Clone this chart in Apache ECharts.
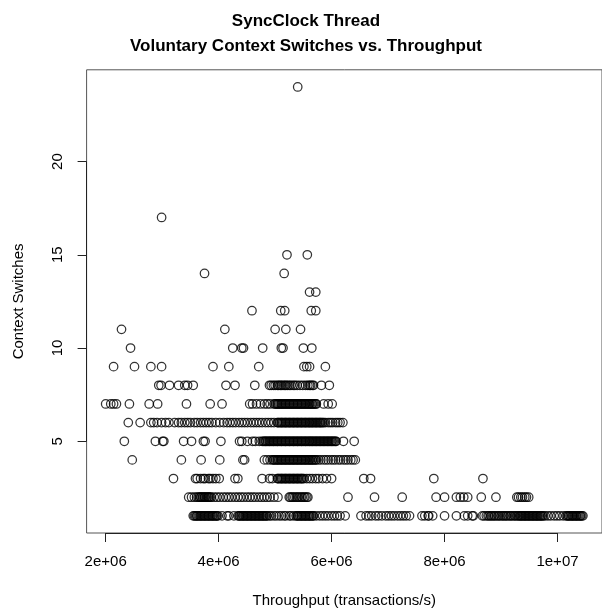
<!DOCTYPE html>
<html>
<head>
<meta charset="utf-8">
<script src="https://cdn.jsdelivr.net/npm/echarts@6/dist/echarts.min.js"></script>
<style>
  html, body { margin: 0; padding: 0; background: #fff; }
  #chart { width: 602px; height: 613px; }
</style>
</head>
<body>
<div id="chart"></div>
<script>
// Throughput readings (millions of transactions/s) grouped by the number of
// voluntary context switches observed for the SyncClock thread.
const switchLevels = [1, 2, 3, 4, 5, 6, 7, 8, 9, 10, 11, 12, 13, 14, 15, 17, 24];

const throughputAt1 = [
  3.55, 3.57, 3.59, 3.61, 3.62, 3.64, 3.66, 3.68, 3.69, 3.71, 3.73, 3.75, 3.76,
  3.78, 3.80, 3.82, 3.83, 3.85, 3.87, 3.89, 3.90, 3.92, 3.94, 3.96, 3.97, 3.99,
  4.06, 4.15, 4.18, 4.27,
  4.34, 4.36, 4.37, 4.39, 4.41, 4.43, 4.44, 4.46, 4.48, 4.50, 4.51, 4.53, 4.55,
  4.57, 4.58, 4.60, 4.62, 4.64, 4.65, 4.67, 4.69, 4.71, 4.72, 4.74, 4.76, 4.78,
  4.79, 4.81, 4.83, 4.85, 4.86,
  4.90, 4.93, 4.98, 5.02, 5.07, 5.11, 5.16, 5.19, 5.25, 5.28, 5.33, 5.37,
  5.39, 5.40, 5.42, 5.44, 5.46, 5.47, 5.49, 5.51, 5.53, 5.54, 5.56, 5.58, 5.60,
  5.61, 5.63, 5.65, 5.67, 5.68,
  5.73, 5.79, 5.84, 5.89, 5.94, 6.00, 6.05, 6.10, 6.15, 6.24,
  6.52, 6.61, 6.66, 6.71, 6.78, 6.83, 6.89, 6.96, 7.01, 7.06, 7.11, 7.17, 7.22, 7.27, 7.32, 7.38,
  7.60, 7.65, 7.71, 7.72, 7.79,
  8.00, 8.21, 8.35, 8.41, 8.49, 8.51,
  8.67, 8.70, 8.74, 8.77,
  8.79, 8.82, 8.84, 8.87, 8.89, 8.92, 8.95, 8.97, 9.00, 9.03, 9.05, 9.08, 9.10,
  9.13, 9.16, 9.18, 9.21, 9.24, 9.26, 9.29,
  9.31, 9.33, 9.35, 9.36, 9.38, 9.40, 9.42, 9.43, 9.45, 9.47, 9.49, 9.50, 9.52,
  9.54, 9.56, 9.57, 9.59, 9.61, 9.63, 9.64, 9.66, 9.68, 9.70, 9.71, 9.73, 9.75,
  9.78, 9.83, 9.88, 9.94, 9.99, 10.04, 10.10,
  10.15, 10.17, 10.19, 10.20, 10.22, 10.24, 10.26, 10.27, 10.29, 10.31, 10.33,
  10.34, 10.36, 10.38, 10.40, 10.41, 10.43, 10.45
];
const throughputAt2 = [
  3.47, 3.52, 3.57, 3.61, 3.64, 3.66, 3.68, 3.69, 3.71, 3.73, 3.75, 3.76, 3.78,
  3.80, 3.82, 3.83, 3.85, 3.87,
  3.92, 3.97, 4.02, 4.08, 4.13, 4.18, 4.23, 4.29, 4.34, 4.39, 4.44, 4.50, 4.55,
  4.60, 4.65, 4.71, 4.76, 4.81, 4.86, 4.91, 4.98, 5.05,
  5.25, 5.27, 5.30, 5.32, 5.35, 5.38, 5.40, 5.43, 5.46, 5.48, 5.51, 5.53, 5.56, 5.58,
  6.29, 6.76, 7.25, 7.85, 8.00, 8.21, 8.28, 8.34, 8.41, 8.65, 8.91,
  9.28, 9.31, 9.35, 9.38, 9.42, 9.45, 9.49
];
const throughputAt3 = [
  3.20, 3.59, 3.62, 3.68, 3.73, 3.76, 3.82, 3.85, 3.90, 3.95, 4.01,
  4.29, 4.34, 4.77, 4.90, 4.95,
  5.04, 5.05, 5.07, 5.09, 5.11, 5.12, 5.14, 5.16, 5.18, 5.19, 5.21, 5.23, 5.25,
  5.26, 5.28, 5.30, 5.32, 5.33, 5.35, 5.37, 5.39, 5.40, 5.42, 5.44, 5.46, 5.47,
  5.49, 5.51,
  5.56, 5.61, 5.66, 5.72, 5.77, 5.84, 5.91, 6.00,
  6.57, 6.69, 7.81, 8.68
];
const throughputAt4 = [
  2.47, 3.34, 3.69, 4.02, 4.43, 4.46, 4.81, 4.86, 4.91,
  4.95, 4.97, 4.98, 5.00, 5.02, 5.04, 5.05, 5.07, 5.09, 5.11, 5.12, 5.14, 5.16,
  5.18, 5.19, 5.21, 5.23, 5.25, 5.26, 5.28, 5.30, 5.32, 5.33, 5.35, 5.37, 5.39,
  5.40, 5.42, 5.44, 5.46, 5.47, 5.49, 5.51, 5.53, 5.54, 5.56, 5.58, 5.60, 5.61,
  5.63, 5.65, 5.66, 5.68, 5.70, 5.72, 5.73,
  5.77, 5.81, 5.86, 5.90, 5.94, 5.99, 6.03, 6.07, 6.12, 6.16, 6.21, 6.25, 6.29,
  6.34, 6.38, 6.42
];
const throughputAt5 = [
  2.33, 2.88, 3.01, 3.03, 3.38, 3.52, 3.73, 3.76, 4.04, 4.37, 4.41, 4.51, 4.60,
  4.65, 4.72,
  4.77, 4.79, 4.81, 4.83, 4.84, 4.86, 4.88, 4.90, 4.91, 4.93, 4.95, 4.97, 4.98,
  5.00, 5.02, 5.04, 5.05, 5.07, 5.09, 5.11, 5.12, 5.14, 5.16, 5.18, 5.19, 5.21,
  5.23, 5.25, 5.26, 5.28, 5.30, 5.32, 5.33, 5.35, 5.37, 5.39, 5.40, 5.42, 5.44,
  5.46, 5.47, 5.49, 5.51, 5.53, 5.54, 5.56, 5.58, 5.60, 5.61, 5.63, 5.65, 5.66,
  5.68, 5.70, 5.72, 5.73, 5.75, 5.77, 5.79, 5.80, 5.82, 5.84, 5.86, 5.87, 5.89,
  5.91, 5.93, 5.94, 5.96, 5.98, 6.00, 6.01, 6.03, 6.05, 6.07, 6.08,
  6.21, 6.40
];
const throughputAt6 = [
  2.40, 2.61, 2.80, 2.85, 2.91, 2.99, 3.06, 3.12, 3.22, 3.29, 3.34, 3.40, 3.45,
  3.50, 3.57, 3.62, 3.68, 3.73, 3.78, 3.83, 3.88, 3.95, 4.02, 4.09, 4.15, 4.20,
  4.25, 4.30, 4.36, 4.41, 4.46, 4.51, 4.57, 4.62, 4.67, 4.72, 4.77, 4.83, 4.88,
  4.93, 4.98,
  5.04, 5.05, 5.07, 5.09, 5.11, 5.12, 5.14, 5.16, 5.18, 5.19, 5.21, 5.23, 5.25,
  5.26, 5.28, 5.30, 5.32, 5.33, 5.35, 5.37, 5.39, 5.40, 5.42, 5.44, 5.46, 5.47,
  5.49, 5.51, 5.53, 5.54, 5.56, 5.58, 5.60, 5.61, 5.63, 5.65, 5.66, 5.68, 5.70,
  5.72, 5.73, 5.75, 5.77, 5.79, 5.80, 5.82, 5.84, 5.86,
  5.89, 5.94, 5.98, 6.02, 6.07, 6.11, 6.15, 6.20
];
const throughputAt7 = [
  2.00, 2.09, 2.14, 2.19, 2.42, 2.77, 2.92, 3.43, 3.85, 4.06, 4.55, 4.60, 4.67,
  4.74, 4.81, 4.86, 4.91,
  4.98, 5.00, 5.02, 5.04, 5.05, 5.07, 5.09, 5.11, 5.12, 5.14, 5.16, 5.18, 5.19,
  5.21, 5.23, 5.25, 5.26, 5.28, 5.30, 5.32, 5.33, 5.35, 5.37, 5.39, 5.40, 5.42,
  5.44, 5.46, 5.47, 5.49, 5.51, 5.53, 5.54, 5.56, 5.58, 5.60, 5.61, 5.63, 5.65,
  5.66, 5.68, 5.70, 5.72, 5.73,
  5.86, 5.94, 6.01
];
const throughputAt8 = [
  2.94, 2.98, 3.13, 3.29, 3.40, 3.45, 3.55, 4.13, 4.29, 4.64,
  4.90, 4.93, 4.97, 5.00, 5.04, 5.06, 5.09, 5.11, 5.14, 5.17, 5.19, 5.22, 5.25,
  5.28, 5.32, 5.35, 5.39, 5.44, 5.49, 5.54, 5.58, 5.61, 5.63, 5.66, 5.68,
  5.82, 5.96
];
const throughputAt9 = [2.14, 2.51, 2.80, 2.99, 3.90, 4.18, 4.71, 5.51, 5.56, 5.61, 5.89];
const throughputAt10 = [2.44, 4.25, 4.41, 4.44, 4.78, 5.11, 5.14, 5.50, 5.65];
const throughputAt11 = [2.28, 4.11, 5.00, 5.19, 5.45];
const throughputAt12 = [4.59, 5.10, 5.17, 5.64, 5.72];
const throughputAt13 = [5.61, 5.72];
const throughputAt14 = [3.75, 5.16];
const throughputAt15 = [5.21, 5.57];
const throughputAt17 = [2.99];
const throughputAt24 = [5.40];

const throughputByLevel = [
  throughputAt1, throughputAt2, throughputAt3, throughputAt4, throughputAt5,
  throughputAt6, throughputAt7, throughputAt8, throughputAt9, throughputAt10,
  throughputAt11, throughputAt12, throughputAt13, throughputAt14, throughputAt15,
  throughputAt17, throughputAt24
];

// Axis ticks and their printed labels
const xTicks = [2e6, 4e6, 6e6, 8e6, 1e7];
const xTickLabels = ['2e+06', '4e+06', '6e+06', '8e+06', '1e+07'];
const yTicks = [5, 10, 15, 20];

// Build [throughput, switches] pairs
const points = [];
switchLevels.forEach((level, i) => {
  throughputByLevel[i].forEach(m => points.push([m * 1e6, level]));
});

// Pad each axis by 4% of the data range on both sides
const xs = points.map(p => p[0]);
const ys = points.map(p => p[1]);
const xMin = Math.min(...xs), xMax = Math.max(...xs);
const yMin = Math.min(...ys), yMax = Math.max(...ys);
const xPad = (xMax - xMin) * 0.04, yPad = (yMax - yMin) * 0.04;
const xLo = xMin - xPad, xHi = xMax + xPad;
const yLo = yMin - yPad, yHi = yMax + yPad;

const FONT = '"Liberation Sans", Arial, Helvetica, sans-serif';
const chart = echarts.init(document.getElementById('chart'), null, { renderer: 'canvas' });

chart.setOption({
  backgroundColor: '#ffffff',
  animation: false,
  title: {
    text: 'SyncClock Thread\nVoluntary Context Switches vs. Throughput',
    left: 301,
    top: 4,
    textAlign: 'center',
    textStyle: {
      fontFamily: FONT, fontSize: 17, fontWeight: 'bold', color: '#000', lineHeight: 25
    }
  },
  grid: {
    left: 86.6,
    top: 69.8,
    width: 522.8,
    height: 463.8,
    show: true,
    borderColor: '#555',
    borderWidth: 1,
    backgroundColor: 'transparent'
  },
  xAxis: {
    type: 'value',
    min: xLo,
    max: xHi,
    name: 'Throughput (transactions/s)',
    nameLocation: 'middle',
    nameGap: 60,
    nameTextStyle: { fontFamily: FONT, fontSize: 15, color: '#000' },
    axisLine: { show: false },
    splitLine: { show: false },
    axisTick: {
      show: true, inside: false, length: 9, customValues: xTicks,
      lineStyle: { color: '#222', width: 1 }
    },
    axisLabel: {
      show: true, margin: 21, customValues: xTicks,
      fontFamily: FONT, fontSize: 15, color: '#000',
      formatter: v => xTickLabels[xTicks.indexOf(v)] ?? ''
    }
  },
  yAxis: {
    type: 'value',
    min: yLo,
    max: yHi,
    name: 'Context Switches',
    nameLocation: 'middle',
    nameGap: 60,
    nameRotate: 90,
    nameTextStyle: { fontFamily: FONT, fontSize: 15, color: '#000' },
    axisLine: { show: false },
    splitLine: { show: false },
    axisTick: {
      show: true, inside: false, length: 9, customValues: yTicks,
      lineStyle: { color: '#222', width: 1 }
    },
    axisLabel: {
      show: true, margin: 21, rotate: 90, customValues: yTicks,
      fontFamily: FONT, fontSize: 15, color: '#000'
    }
  },
  series: [{
    type: 'scatter',
    data: points,
    symbol: 'circle',
    symbolSize: 8.5,
    itemStyle: {
      color: 'rgba(0,0,0,0)',
      borderColor: '#000',
      borderWidth: 1.25
    },
    emphasis: { disabled: true },
    silent: true,
    // Axis lines run from the first to the last tick, over the frame
    markLine: {
      silent: true,
      symbol: ['none', 'none'],
      label: { show: false },
      emphasis: { disabled: true },
      lineStyle: { color: '#222', width: 1, type: 'solid' },
      data: [
        [{ coord: [xTicks[0], yLo] }, { coord: [xTicks[xTicks.length - 1], yLo] }],
        [{ coord: [xLo, yTicks[0]] }, { coord: [xLo, yTicks[yTicks.length - 1]] }]
      ]
    }
  }]
});
</script>
</body>
</html>
